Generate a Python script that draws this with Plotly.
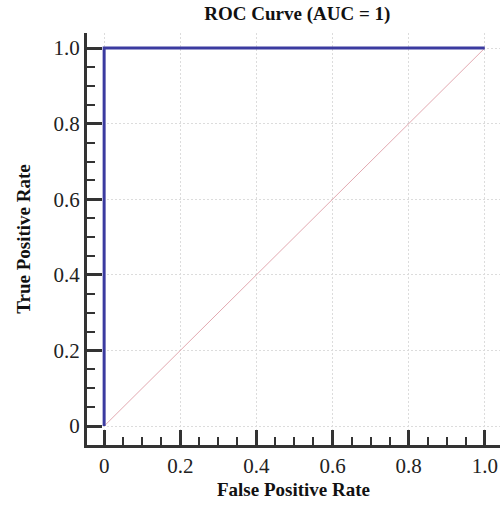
import plotly.graph_objects as go

fpr = [0, 0, 1]
tpr = [0, 1, 1]
diag_x = [0, 1]
diag_y = [0, 1]
tick_vals = [0, 0.2, 0.4, 0.6, 0.8, 1.0]
tick_text = ["0", "0.2", "0.4", "0.6", "0.8", "1.0"]

serif = "Liberation Serif, Times New Roman, serif"

fig = go.Figure()
fig.add_trace(go.Scatter(x=diag_x, y=diag_y, mode="lines",
                         line=dict(color="#e3a9b1", width=1), showlegend=False))
fig.add_trace(go.Scatter(x=fpr, y=tpr, mode="lines",
                         line=dict(color="#3b3ba0", width=3), showlegend=False))

axis_common = dict(
    tickvals=tick_vals, ticktext=tick_text,
    ticks="inside", ticklen=15, tickwidth=3, tickcolor="#333",
    showline=True, linewidth=3, linecolor="#333",
    showgrid=True, gridcolor="#dcdcdc", griddash="2px,2px", gridwidth=1,
    zeroline=False,
    tickfont=dict(family=serif, size=21, color="#222"),
    minor=dict(ticks="inside", ticklen=8, tickwidth=2, tickcolor="#333", dtick=0.05, showgrid=False),
)

fig.update_layout(
    width=504, height=506,
    margin=dict(l=87, r=4, t=33, b=61),
    plot_bgcolor="white", paper_bgcolor="white",
    title=dict(text="<b>ROC Curve (AUC = 1)</b>", x=0.59, xanchor="center", y=0.974, yanchor="middle",
               font=dict(family=serif, size=19, color="#111")),
    xaxis=dict(range=[-0.045, 1.04],
               title=dict(text="<b>False Positive Rate</b>", font=dict(family=serif, size=19, color="#111"), standoff=6),
               **axis_common),
    yaxis=dict(range=[-0.05, 1.04],
               title=dict(text="<b>True Positive Rate</b>", font=dict(family=serif, size=19, color="#111"), standoff=18),
               **axis_common),
)

fig.write_html("out.html")
